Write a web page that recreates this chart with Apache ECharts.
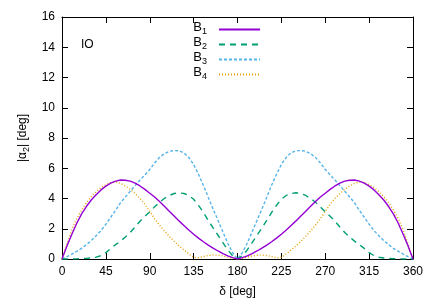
<!DOCTYPE html>
<html>
<head>
<meta charset="utf-8">
<script src="https://cdn.jsdelivr.net/npm/echarts@6/dist/echarts.min.js"></script>
<style>html,body{margin:0;padding:0;background:#fff}#c{width:436px;height:305px}</style>
</head>
<body>
<div id="c"></div>
<script>
var deltas = [0,5,10,15,20,25,30,35,40,45,50,55,60,65,70,75,80,85,90,95,100,105,110,115,120,125,130,135,140,145,150,155,160,165,170,175,180,
185,190,195,200,205,210,215,220,225,230,235,240,245,250,255,260,265,270,275,280,285,290,295,300,305,310,315,320,325,330,335,340,345,350,355,360];
var b1 = [0,0.85,1.62,2.35,2.97,3.47,3.9,4.25,4.57,4.82,5.02,5.15,5.22,5.21,5.15,5.02,4.83,4.6,4.35,4.1,3.8,3.48,3.16,2.84,2.52,2.22,1.92,1.64,1.38,1.14,0.92,0.72,0.53,0.36,0.21,0.09,0,
0.09,0.21,0.36,0.53,0.72,0.92,1.14,1.38,1.64,1.92,2.22,2.52,2.84,3.16,3.48,3.8,4.1,4.35,4.6,4.83,5.02,5.15,5.21,5.22,5.15,5.02,4.82,4.57,4.25,3.9,3.47,2.97,2.35,1.62,0.85,0];
var b2 = [0,0,0,0.01,0.02,0.04,0.07,0.12,0.22,0.42,0.7,0.95,1.18,1.45,1.75,2.12,2.5,2.82,3.12,3.45,3.75,4.0,4.2,4.33,4.38,4.33,4.2,3.95,3.55,3.08,2.55,2.05,1.57,1.08,0.6,0.22,0,
0.22,0.6,1.08,1.57,2.05,2.55,3.08,3.55,3.95,4.2,4.33,4.38,4.33,4.2,4.0,3.75,3.45,3.12,2.82,2.5,2.12,1.75,1.45,1.18,0.95,0.7,0.42,0.22,0.12,0.07,0.04,0.02,0.01,0,0,0];
var b3 = [0,0.15,0.32,0.5,0.7,0.95,1.22,1.53,1.88,2.3,2.76,3.22,3.72,4.1,4.48,4.85,5.22,5.56,5.92,6.35,6.72,6.96,7.12,7.17,7.16,7.02,6.72,6.25,5.6,4.88,4.08,3.3,2.55,1.8,1.04,0.42,0,
0.42,1.04,1.8,2.55,3.3,4.08,4.88,5.6,6.25,6.72,7.02,7.16,7.17,7.12,6.96,6.72,6.35,5.92,5.56,5.22,4.85,4.48,4.1,3.72,3.22,2.76,2.3,1.88,1.53,1.22,0.95,0.7,0.5,0.32,0.15,0];
var b4 = [0,0.97,1.92,2.65,3.22,3.72,4.12,4.45,4.72,4.92,5.05,5.1,5.0,4.83,4.6,4.32,4.01,3.62,3.15,2.66,2.24,1.86,1.5,1.17,0.87,0.6,0.34,0.1,0.08,0.16,0.23,0.26,0.25,0.2,0.12,0.05,0,
0.05,0.12,0.2,0.25,0.26,0.23,0.16,0.08,0.1,0.34,0.6,0.87,1.17,1.5,1.86,2.24,2.66,3.15,3.62,4.01,4.32,4.6,4.83,5.0,5.1,5.05,4.92,4.72,4.45,4.12,3.72,3.22,2.65,1.92,0.97,0];
var seriesNames = ['B1','B2','B3','B4'];
var xTicks = {min:0, max:360, interval:45};
var yTicks = {min:0, max:16, interval:2};

function pairs(arr){ return deltas.map(function(d,i){ return [d, arr[i]]; }); }
var FONT = 'Liberation Sans, Arial, sans-serif';
var chart = echarts.init(document.getElementById('c'), null, {renderer:'canvas'});
var axisLineStyle = {color:'#000', width:1};
function xAx(pos, labels){
  return {type:'value', position:pos, min:xTicks.min, max:xTicks.max, interval:xTicks.interval,
    axisLine:{show:true, onZero:false, lineStyle:axisLineStyle},
    axisTick:{show:true, inside:true, length:6, lineStyle:axisLineStyle},
    axisLabel:{show:labels, color:'#000', fontFamily:FONT, fontSize:12, margin:7},
    splitLine:{show:false},
    name: labels ? 'δ [deg]' : '', nameLocation:'middle', nameGap:27,
    nameTextStyle:{color:'#000', fontFamily:FONT, fontSize:12}};
}
function yAx(pos, labels){
  return {type:'value', position:pos, min:yTicks.min, max:yTicks.max, interval:yTicks.interval,
    axisLine:{show:true, onZero:false, lineStyle:axisLineStyle},
    axisTick:{show:true, inside:true, length:6, lineStyle:axisLineStyle},
    axisLabel:{show:labels, color:'#000', fontFamily:FONT, fontSize:12, margin:7},
    splitLine:{show:false},
    name: labels ? '{t||α}{s|2}{t|| [deg]}' : '', nameLocation:'middle', nameGap:31, nameRotate:90,
    nameTextStyle:{color:'#000', fontFamily:FONT, fontSize:12,
      rich:{t:{fontFamily:FONT, fontSize:12, color:'#000'}, s:{fontFamily:FONT, fontSize:9, color:'#000', padding:[7,0,0,0]}}}};
}
var colors = ['#9400d3','#009e73','#56b4e9','#e69f00'];
var dashes = ['solid',[6,5],[3,2],[1,2]];
var vals = [b1,b2,b3,b4];
var series = seriesNames.map(function(n,i){
  return {name:n, type:'line', data:pairs(vals[i]), symbol:'none', smooth:false, xAxisIndex:0, yAxisIndex:0,
    lineStyle:{color:colors[i], width:1.4, type:dashes[i]}, itemStyle:{color:colors[i]}, z:10-i};
});
chart.setOption({
  animation:false,
  backgroundColor:'#fff',
  color:colors,
  grid:{left:62, right:23, top:17, bottom:46, containLabel:false},
  title:{text:'IO', left:76, top:34, textStyle:{fontFamily:FONT, fontSize:12, fontWeight:'normal', color:'#000'}},
  legend:{orient:'vertical', right:170, top:16, align:'right', itemWidth:41, itemHeight:14, itemGap:-2,
    data:seriesNames,
    itemStyle:{opacity:0},
    formatter:function(n){ return '{b|B}{s|'+n.slice(1)+'}'; },
    textStyle:{fontFamily:FONT, fontSize:12, color:'#000', padding:[0,7,0,0], lineHeight:14,
      rich:{b:{fontFamily:FONT, fontSize:13, color:'#000', lineHeight:10, padding:[0,0,4,0]}, s:{fontFamily:FONT, fontSize:9, color:'#000', lineHeight:9, padding:[5,0,0,0]}}}},
  xAxis:[xAx('bottom', true), xAx('top', false)],
  yAxis:[yAx('left', true), yAx('right', false)],
  series:series
});
</script>
</body>
</html>
